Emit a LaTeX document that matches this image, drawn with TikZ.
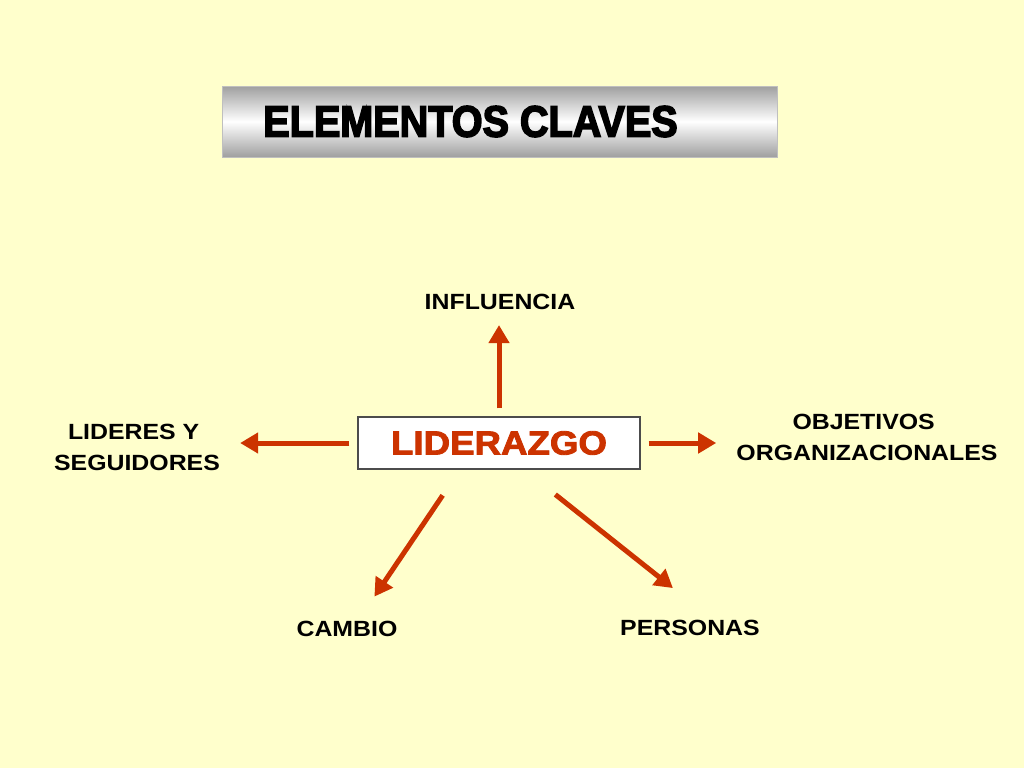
\documentclass[tikz,border=0pt]{standalone}
\usepackage{fontspec}
\usepackage{xcolor}
\usetikzlibrary{calc}
\usetikzlibrary{arrows.meta}

\setmainfont{Liberation Sans}
\newfontfamily\etiqfont{Liberation Sans}[FakeStretch=1.13]
\newfontfamily\titrefont{Liberation Sans}[FakeStretch=0.9, BoldFeatures={FakeBold=3.5}]
\newfontfamily\lidfont{Liberation Sans}[FakeStretch=1.1, BoldFeatures={FakeBold=2.5}]

\definecolor{fondo}{HTML}{FFFFCC}
\definecolor{rojo}{HTML}{CC3300}

\begin{document}
\begin{tikzpicture}[x=0.75pt,y=-0.75pt]

\tikzset{
    etiqueta/.style = {
    inner sep=0pt,
    align=center,
    font=\etiqfont\bfseries\fontsize{16.5}{23.25}\selectfont
    }
}

\tikzstyle{flecha}=[draw=rojo, line width=3.75pt, -{Triangle[length=13.5pt, width=15pt]}]
\tikzstyle{titulo}=[draw=gray!50, top color=gray!75, bottom color=gray!75, middle color=white, minimum width=416.25pt, minimum height=53.25pt, font=\titrefont\bfseries\fontsize{33}{38}\selectfont]
\tikzstyle{caja}=[draw=black!70, fill=white, line width=0.9pt, minimum width=211.5pt, minimum height=39pt, text=rojo, font=\lidfont\bfseries\fontsize{25}{30}\selectfont]

\useasboundingbox (0,0) rectangle (1024,768);
\fill[fondo] (0,0) rectangle (1024,768);

\node (tit) [titulo] at (499.5,121.5) {ELEMENTOS CLAVES\kern43.5pt};

\node (lid) [caja] at (499,443) {LIDERAZGO};

\node (infl) [etiqueta] at (500,302) {INFLUENCIA};
\node (lider) [etiqueta] at (137,447) {LIDERES Y\kern5pt\\SEGUIDORES};
\node (obj) [etiqueta] at (867,437.5) {OBJETIVOS\kern5pt\\ORGANIZACIONALES};
\node (cambio) [etiqueta] at (347,629) {CAMBIO};
\node (pers) [etiqueta] at (690,628) {PERSONAS};

% flechas desde el centro
\draw[flecha, shorten <=6pt, shorten >=11.25pt] (lid.north) -- (lid.north |- infl.south);
\draw[flecha, shorten <=6pt, shorten >=15pt] (lid.west) -- (lid.west -| lider.east);
\draw[flecha, shorten <=6pt, shorten >=15pt] (lid.east) -- (lid.east -| obj.west);
\draw[flecha, shorten <=23.25pt, shorten >=22pt] ($(lid.south)+(-39,0)$) -- ($(cambio.north)+(11,0)$);
\draw[flecha, shorten <=30pt, shorten >=38.4pt] ($(lid.south)+(25,0)$) -- ($(pers.north)+(23,0)$);

\end{tikzpicture}
\end{document}
